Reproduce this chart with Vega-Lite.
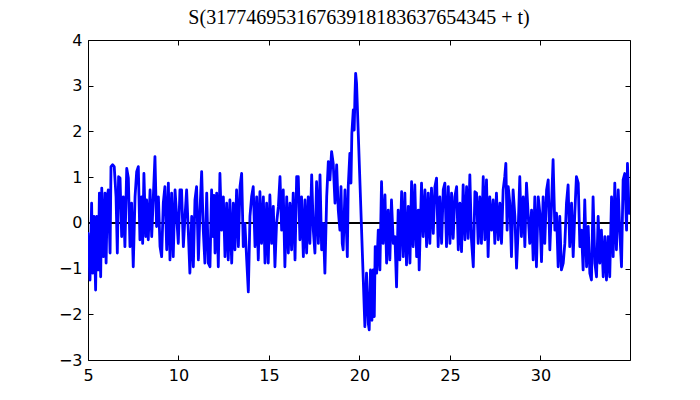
{
  "$schema": "https://vega.github.io/schema/vega-lite/v6.json",
  "width": 542,
  "height": 320,
  "autosize": {"type": "none"},
  "padding": {"left": 88, "top": 40, "right": 70, "bottom": 40},
  "title": {
    "text": "S(31774695316763918183637654345 + t)",
    "font": "Liberation Serif",
    "fontSize": 20,
    "fontWeight": "normal",
    "color": "black",
    "offset": 4
  },
  "config": {
    "view": {"stroke": "black", "strokeWidth": 1},
    "axis": {
      "domain": false,
      "grid": false,
      "ticks": true,
      "tickColor": "black",
      "tickWidth": 1,
      "tickSize": -5,
      "labelFont": "DejaVu Sans",
      "labelFontSize": 16,
      "labelColor": "black",
      "title": null
    }
  },
  "data": {
    "values": [
      {"t": 5.00, "s": -0.23}, {"t": 5.11, "s": -1.25}, {"t": 5.20, "s": 0.43}, {"t": 5.26, "s": -1.10},
      {"t": 5.33, "s": 0.14}, {"t": 5.42, "s": -1.47}, {"t": 5.48, "s": 0.14}, {"t": 5.57, "s": -1.03},
      {"t": 5.63, "s": 0.65}, {"t": 5.70, "s": -1.18}, {"t": 5.76, "s": 0.76}, {"t": 5.85, "s": -0.74},
      {"t": 5.94, "s": 0.65}, {"t": 6.00, "s": -0.88}, {"t": 6.07, "s": 0.57}, {"t": 6.12, "s": 0.72},
      {"t": 6.22, "s": -0.66}, {"t": 6.27, "s": 1.23}, {"t": 6.36, "s": 1.27}, {"t": 6.45, "s": 1.23},
      {"t": 6.55, "s": 0.57}, {"t": 6.62, "s": -0.66}, {"t": 6.69, "s": 1.01}, {"t": 6.77, "s": 0.98},
      {"t": 6.86, "s": -0.30}, {"t": 6.95, "s": 0.57}, {"t": 7.04, "s": -0.52}, {"t": 7.14, "s": 1.19},
      {"t": 7.23, "s": 0.98}, {"t": 7.32, "s": -0.52}, {"t": 7.41, "s": 0.43}, {"t": 7.50, "s": -0.96},
      {"t": 7.60, "s": 0.57}, {"t": 7.69, "s": 1.12}, {"t": 7.78, "s": 1.23}, {"t": 7.87, "s": -0.37},
      {"t": 7.96, "s": 0.57}, {"t": 8.02, "s": -0.45}, {"t": 8.09, "s": 1.08}, {"t": 8.19, "s": -0.30},
      {"t": 8.24, "s": 0.50}, {"t": 8.33, "s": -0.37}, {"t": 8.43, "s": 0.72}, {"t": 8.52, "s": -0.30},
      {"t": 8.61, "s": 0.57}, {"t": 8.70, "s": 1.45}, {"t": 8.79, "s": -0.08}, {"t": 8.89, "s": 0.57},
      {"t": 8.98, "s": -0.52}, {"t": 9.07, "s": -0.74}, {"t": 9.16, "s": 0.43}, {"t": 9.25, "s": 0.79},
      {"t": 9.35, "s": -0.59}, {"t": 9.44, "s": 0.87}, {"t": 9.53, "s": -0.81}, {"t": 9.62, "s": 0.65},
      {"t": 9.71, "s": -0.74}, {"t": 9.81, "s": 0.72}, {"t": 9.90, "s": 0.14}, {"t": 9.99, "s": -0.45},
      {"t": 10.08, "s": 0.72}, {"t": 10.17, "s": 0.72}, {"t": 10.27, "s": -0.52}, {"t": 10.36, "s": 0.14},
      {"t": 10.45, "s": 0.72}, {"t": 10.54, "s": -0.16}, {"t": 10.63, "s": -1.10}, {"t": 10.73, "s": 0.14},
      {"t": 10.82, "s": -0.96}, {"t": 10.91, "s": 0.50}, {"t": 11.00, "s": 0.79}, {"t": 11.10, "s": -0.81},
      {"t": 11.19, "s": 0.28}, {"t": 11.28, "s": 1.12}, {"t": 11.37, "s": -0.16}, {"t": 11.46, "s": -0.88},
      {"t": 11.56, "s": 0.65}, {"t": 11.65, "s": -0.88}, {"t": 11.74, "s": -0.96}, {"t": 11.83, "s": 0.72},
      {"t": 11.90, "s": -0.30}, {"t": 11.96, "s": 0.60}, {"t": 12.02, "s": -0.66}, {"t": 12.11, "s": 0.65},
      {"t": 12.20, "s": -0.96}, {"t": 12.29, "s": 1.08}, {"t": 12.38, "s": -0.16}, {"t": 12.48, "s": 0.57},
      {"t": 12.57, "s": -0.74}, {"t": 12.66, "s": 0.43}, {"t": 12.75, "s": -0.81}, {"t": 12.84, "s": 0.50},
      {"t": 12.94, "s": -0.88}, {"t": 13.03, "s": 0.43}, {"t": 13.12, "s": -0.59}, {"t": 13.21, "s": 0.72},
      {"t": 13.31, "s": -0.52}, {"t": 13.40, "s": 0.79}, {"t": 13.49, "s": 1.08}, {"t": 13.58, "s": -0.52},
      {"t": 13.67, "s": -0.01}, {"t": 13.77, "s": -0.81}, {"t": 13.86, "s": -1.51}, {"t": 13.95, "s": 0.14},
      {"t": 14.04, "s": 0.57}, {"t": 14.13, "s": 0.79}, {"t": 14.23, "s": -0.52}, {"t": 14.32, "s": 0.57},
      {"t": 14.41, "s": -0.81}, {"t": 14.50, "s": 0.68}, {"t": 14.59, "s": -0.45}, {"t": 14.69, "s": 0.57},
      {"t": 14.78, "s": -0.88}, {"t": 14.87, "s": 0.43}, {"t": 14.96, "s": -0.88}, {"t": 15.05, "s": 0.61},
      {"t": 15.15, "s": -0.45}, {"t": 15.24, "s": 0.36}, {"t": 15.33, "s": -0.96}, {"t": 15.42, "s": -0.01},
      {"t": 15.52, "s": 0.36}, {"t": 15.61, "s": 1.01}, {"t": 15.70, "s": -0.16}, {"t": 15.79, "s": 0.72},
      {"t": 15.88, "s": -0.96}, {"t": 15.98, "s": 0.57}, {"t": 16.07, "s": -0.66}, {"t": 16.16, "s": 0.43},
      {"t": 16.25, "s": -0.59}, {"t": 16.34, "s": 0.65}, {"t": 16.44, "s": -0.81}, {"t": 16.53, "s": 1.01},
      {"t": 16.62, "s": 1.01}, {"t": 16.71, "s": -0.37}, {"t": 16.80, "s": 0.57}, {"t": 16.90, "s": -0.74},
      {"t": 16.99, "s": 0.50}, {"t": 17.08, "s": -0.66}, {"t": 17.17, "s": 0.57}, {"t": 17.26, "s": -0.45},
      {"t": 17.36, "s": 1.05}, {"t": 17.45, "s": -0.16}, {"t": 17.54, "s": -0.66}, {"t": 17.63, "s": 0.90},
      {"t": 17.73, "s": -0.45}, {"t": 17.82, "s": 1.05}, {"t": 17.91, "s": -0.59}, {"t": 18.00, "s": -0.01},
      {"t": 18.09, "s": -1.10}, {"t": 18.19, "s": 0.57}, {"t": 18.28, "s": 1.34}, {"t": 18.37, "s": 0.94},
      {"t": 18.46, "s": 1.56}, {"t": 18.55, "s": 1.30}, {"t": 18.65, "s": 0.43}, {"t": 18.74, "s": 1.27},
      {"t": 18.83, "s": 0.28}, {"t": 18.92, "s": -0.16}, {"t": 18.98, "s": 0.79}, {"t": 19.05, "s": -0.45},
      {"t": 19.10, "s": -0.59}, {"t": 19.20, "s": 0.72}, {"t": 19.33, "s": -0.74}, {"t": 19.38, "s": 0.79},
      {"t": 19.47, "s": 1.52}, {"t": 19.53, "s": 0.87}, {"t": 19.58, "s": 1.96}, {"t": 19.66, "s": 2.47},
      {"t": 19.71, "s": 2.03}, {"t": 19.75, "s": 2.76}, {"t": 19.79, "s": 3.27}, {"t": 19.84, "s": 3.05},
      {"t": 20.30, "s": -2.27}, {"t": 20.39, "s": -1.10}, {"t": 20.49, "s": -2.20}, {"t": 20.54, "s": -2.34},
      {"t": 20.61, "s": -1.03}, {"t": 20.69, "s": -2.13}, {"t": 20.76, "s": -1.03}, {"t": 20.82, "s": -2.05},
      {"t": 20.87, "s": -0.52}, {"t": 20.95, "s": -1.10}, {"t": 21.04, "s": -0.16}, {"t": 21.13, "s": -1.03},
      {"t": 21.22, "s": 0.90}, {"t": 21.31, "s": -0.45}, {"t": 21.41, "s": 0.61}, {"t": 21.50, "s": -0.88},
      {"t": 21.59, "s": 0.28}, {"t": 21.68, "s": -0.81}, {"t": 21.77, "s": 0.50}, {"t": 21.87, "s": -0.45},
      {"t": 21.96, "s": -0.30}, {"t": 22.05, "s": -1.40}, {"t": 22.14, "s": 0.28}, {"t": 22.23, "s": -0.81},
      {"t": 22.33, "s": 0.68}, {"t": 22.42, "s": -0.74}, {"t": 22.51, "s": 0.65}, {"t": 22.60, "s": -0.92},
      {"t": 22.70, "s": 0.36}, {"t": 22.79, "s": -0.88}, {"t": 22.88, "s": 0.90}, {"t": 22.97, "s": -0.52},
      {"t": 23.06, "s": 0.83}, {"t": 23.16, "s": -0.74}, {"t": 23.25, "s": 0.28}, {"t": 23.30, "s": -1.03},
      {"t": 23.43, "s": 0.87}, {"t": 23.52, "s": -0.30}, {"t": 23.62, "s": 0.72}, {"t": 23.71, "s": -0.52},
      {"t": 23.80, "s": 0.65}, {"t": 23.89, "s": -0.45}, {"t": 23.98, "s": 0.76}, {"t": 24.08, "s": -0.23},
      {"t": 24.17, "s": 0.79}, {"t": 24.26, "s": 0.98}, {"t": 24.35, "s": -0.52}, {"t": 24.44, "s": 0.57},
      {"t": 24.54, "s": -0.45}, {"t": 24.63, "s": 0.72}, {"t": 24.72, "s": 0.87}, {"t": 24.81, "s": -0.52},
      {"t": 24.91, "s": 0.79}, {"t": 25.00, "s": -0.45}, {"t": 25.09, "s": 0.65}, {"t": 25.18, "s": -0.34},
      {"t": 25.27, "s": 0.57}, {"t": 25.37, "s": 0.79}, {"t": 25.46, "s": -0.59}, {"t": 25.55, "s": 0.43},
      {"t": 25.64, "s": -0.63}, {"t": 25.73, "s": 0.83}, {"t": 25.83, "s": -0.37}, {"t": 25.92, "s": 0.79},
      {"t": 26.01, "s": -0.34}, {"t": 26.10, "s": 1.05}, {"t": 26.19, "s": -0.37}, {"t": 26.29, "s": -0.96},
      {"t": 26.38, "s": 0.68}, {"t": 26.47, "s": 0.65}, {"t": 26.56, "s": -0.45}, {"t": 26.65, "s": 0.57},
      {"t": 26.74, "s": -0.45}, {"t": 26.84, "s": 1.01}, {"t": 26.93, "s": -0.37}, {"t": 27.02, "s": 0.94},
      {"t": 27.11, "s": -0.74}, {"t": 27.20, "s": 0.57}, {"t": 27.30, "s": -0.16}, {"t": 27.39, "s": 0.50},
      {"t": 27.48, "s": -0.45}, {"t": 27.57, "s": 0.65}, {"t": 27.67, "s": -0.37}, {"t": 27.76, "s": 0.43},
      {"t": 27.85, "s": -0.45}, {"t": 27.94, "s": 0.72}, {"t": 28.03, "s": 1.01}, {"t": 28.09, "s": 1.30},
      {"t": 28.16, "s": -0.16}, {"t": 28.22, "s": 0.79}, {"t": 28.31, "s": 0.43}, {"t": 28.40, "s": -0.74},
      {"t": 28.49, "s": 0.72}, {"t": 28.59, "s": 0.14}, {"t": 28.68, "s": -0.99}, {"t": 28.77, "s": -0.16},
      {"t": 28.86, "s": 1.01}, {"t": 28.95, "s": -0.30}, {"t": 29.05, "s": 0.57}, {"t": 29.14, "s": -0.52},
      {"t": 29.23, "s": 0.87}, {"t": 29.32, "s": 0.21}, {"t": 29.41, "s": -0.45}, {"t": 29.51, "s": 0.28},
      {"t": 29.60, "s": -0.81}, {"t": 29.69, "s": 0.57}, {"t": 29.78, "s": -0.96}, {"t": 29.88, "s": 0.57},
      {"t": 29.97, "s": 0.21}, {"t": 30.06, "s": -0.85}, {"t": 30.15, "s": 0.57}, {"t": 30.24, "s": -0.45},
      {"t": 30.34, "s": 0.72}, {"t": 30.43, "s": 0.94}, {"t": 30.52, "s": -0.59}, {"t": 30.61, "s": 0.36},
      {"t": 30.70, "s": 1.38}, {"t": 30.80, "s": -0.16}, {"t": 30.89, "s": 0.21}, {"t": 30.98, "s": -0.96},
      {"t": 31.07, "s": 0.14}, {"t": 31.16, "s": -1.03}, {"t": 31.26, "s": -0.88}, {"t": 31.35, "s": -0.45},
      {"t": 31.44, "s": 0.43}, {"t": 31.53, "s": 0.83}, {"t": 31.62, "s": -0.52}, {"t": 31.72, "s": 0.43},
      {"t": 31.81, "s": -0.74}, {"t": 31.90, "s": 0.21}, {"t": 31.99, "s": 1.01}, {"t": 32.09, "s": 0.87},
      {"t": 32.18, "s": -0.52}, {"t": 32.27, "s": -0.16}, {"t": 32.36, "s": -1.03}, {"t": 32.45, "s": 0.50},
      {"t": 32.55, "s": -0.96}, {"t": 32.64, "s": -0.08}, {"t": 32.73, "s": -1.10}, {"t": 32.82, "s": -1.25},
      {"t": 32.91, "s": 0.57}, {"t": 33.01, "s": -0.88}, {"t": 33.10, "s": -1.18}, {"t": 33.19, "s": 0.14},
      {"t": 33.28, "s": -0.88}, {"t": 33.37, "s": -0.16}, {"t": 33.47, "s": -1.18}, {"t": 33.56, "s": -0.30},
      {"t": 33.65, "s": -1.25}, {"t": 33.74, "s": -0.30}, {"t": 33.83, "s": -1.18}, {"t": 33.93, "s": 0.57},
      {"t": 34.02, "s": -0.74}, {"t": 34.11, "s": 0.87}, {"t": 34.20, "s": -0.59}, {"t": 34.30, "s": 0.72},
      {"t": 34.39, "s": -0.23}, {"t": 34.48, "s": -0.96}, {"t": 34.57, "s": 0.94}, {"t": 34.66, "s": 1.08},
      {"t": 34.76, "s": -0.16}, {"t": 34.81, "s": 1.30}, {"t": 34.90, "s": 0.21}, {"t": 34.95, "s": 0.50}
    ]
  },
  "resolve": {"axis": {"x": "independent", "y": "independent"}},
  "layer": [
    {
      "mark": {"type": "rule", "color": "black", "strokeWidth": 1},
      "encoding": {
        "y": {"datum": 0, "type": "quantitative", "scale": {"domain": [-3, 4], "nice": false, "zero": false}, "axis": null}
      }
    },
    {
      "mark": {"type": "line", "color": "#0000ff", "strokeWidth": 2.8, "strokeJoin": "round", "strokeCap": "round", "clip": true},
      "encoding": {
        "x": {"field": "t", "type": "quantitative", "scale": {"domain": [5, 34.95], "nice": false, "zero": false},
              "axis": {"orient": "bottom", "values": [5, 10, 15, 20, 25, 30], "labelPadding": 12, "labelFlush": false}},
        "y": {"field": "s", "type": "quantitative", "scale": {"domain": [-3, 4], "nice": false, "zero": false},
              "axis": {"orient": "left", "values": [-3, -2, -1, 0, 1, 2, 3, 4], "labelPadding": 11}}
      }
    },
    {
      "mark": {"type": "line", "strokeOpacity": 0},
      "encoding": {
        "x": {"field": "t", "type": "quantitative", "axis": {"orient": "top", "values": [5, 10, 15, 20, 25, 30], "labels": false}},
        "y": {"field": "s", "type": "quantitative", "axis": {"orient": "right", "values": [-3, -2, -1, 0, 1, 2, 3, 4], "labels": false}}
      }
    }
  ]
}
